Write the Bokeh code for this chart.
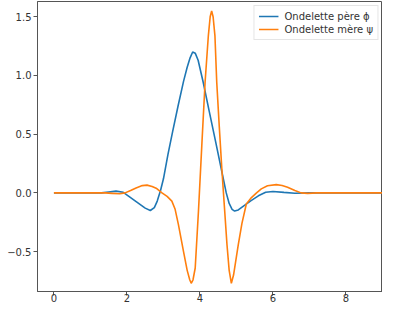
from bokeh.plotting import figure
from bokeh.models import FixedTicker, Range1d, Legend, LegendItem
from bokeh.embed import file_html
from bokeh.resources import INLINE

# Father wavelet (phi)
phi_x = [0, 1.3, 1.5, 1.7, 1.9, 2.1, 2.3, 2.5, 2.64, 2.75, 2.83, 2.92, 3.0, 3.125, 3.25, 3.4,
         3.55, 3.65, 3.73, 3.8, 3.87, 3.95, 4.09, 4.25, 4.44, 4.6, 4.72, 4.8, 4.88, 4.95,
         5.05, 5.2, 5.4, 5.6, 5.8, 6.0, 6.3, 6.6, 7.0, 9.0]
phi_y = [0, 0, 0.008, 0.015, 0.005, -0.04, -0.085, -0.13, -0.15, -0.125, -0.07, 0.02, 0.12, 0.33, 0.52, 0.74,
         0.95, 1.07, 1.15, 1.20, 1.19, 1.13, 0.94, 0.70, 0.42, 0.18, 0.0, -0.09, -0.14, -0.155,
         -0.145, -0.11, -0.066, -0.025, 0.005, 0.012, 0.004, -0.003, 0, 0]

# Mother wavelet (psi)
psi_x = [0, 1.4, 1.6, 1.8, 1.95, 2.1, 2.25, 2.42, 2.55, 2.69, 2.8, 2.96, 3.1, 3.23, 3.32, 3.41,
         3.55, 3.65, 3.72, 3.76, 3.81, 3.87, 3.96, 4.05, 4.14, 4.23, 4.28, 4.32, 4.36, 4.41,
         4.46, 4.53, 4.6, 4.67, 4.74, 4.8, 4.86, 4.92, 5.05, 5.15, 5.27, 5.41, 5.55, 5.68,
         5.85, 6.09, 6.25, 6.4, 6.6, 6.77, 6.95, 7.2, 9.0]
psi_y = [0, 0, -0.004, -0.008, 0.0, 0.02, 0.042, 0.062, 0.066, 0.055, 0.04, 0.0, -0.03, -0.07, -0.14, -0.27,
         -0.5, -0.66, -0.74, -0.77, -0.74, -0.64, -0.15, 0.4, 0.94, 1.34, 1.5, 1.55, 1.5, 1.34,
         0.94, 0.56, 0.2, -0.12, -0.44, -0.66, -0.77, -0.7, -0.44, -0.26, -0.095, -0.04, 0.0, 0.034,
         0.06, 0.07, 0.063, 0.048, 0.02, 0.0, -0.004, 0, 0]

x_ticks = [0, 2, 4, 6, 8]
x_tick_labels = ["0", "2", "4", "6", "8"]
y_ticks = [-0.5, 0, 0.5, 1.0, 1.5]
y_tick_labels = ["\u22120.5", "0.0", "0.5", "1.0", "1.5"]
series_labels = ["Ondelette p\u00e8re \u03d5", "Ondelette m\u00e8re \u03c8"]
series_colors = ["#1f77b4", "#ff7f0e"]

FONT = "DejaVu Sans"

p = figure(width=382, height=304, output_backend="svg", toolbar_location=None,
           x_range=Range1d(-0.45, 9.0), y_range=Range1d(-0.84, 1.63),
           min_border_left=37, min_border_right=0, min_border_top=1, min_border_bottom=0)

r1 = p.line(phi_x, phi_y, line_color=series_colors[0], line_width=1.6)
r2 = p.line(psi_x, psi_y, line_color=series_colors[1], line_width=1.6)

p.xgrid.visible = False
p.ygrid.visible = False
p.outline_line_color = "#555555"
p.outline_line_width = 1

p.xaxis.ticker = FixedTicker(ticks=x_ticks)
p.yaxis.ticker = FixedTicker(ticks=y_ticks)
p.xaxis.major_label_overrides = {t: l for t, l in zip(x_ticks, x_tick_labels)}
p.yaxis.major_label_overrides = {t: l for t, l in zip(y_ticks, y_tick_labels)}

for ax in (p.xaxis[0], p.yaxis[0]):
    ax.axis_line_color = "#555555"
    ax.major_tick_line_color = "#555555"
    ax.major_tick_in = 0
    ax.major_tick_out = 4
    ax.minor_tick_line_color = None
    ax.major_label_text_font = FONT
    ax.major_label_text_font_size = "10px"
    ax.major_label_text_color = "#333333"
    ax.major_label_standoff = 2
p.xaxis[0].major_label_standoff = -2

legend = Legend(items=[LegendItem(label=series_labels[0], renderers=[r1]),
                       LegendItem(label=series_labels[1], renderers=[r2])],
                location="top_right")
legend.label_text_font = FONT
legend.label_text_font_size = "10px"
legend.label_text_color = "#333333"
legend.glyph_width = 20
legend.glyph_height = 12
legend.label_height = 12
legend.spacing = 1
legend.padding = 4
legend.margin = 4
legend.label_standoff = 6
legend.border_line_color = "#cccccc"
legend.background_fill_alpha = 0.8
p.add_layout(legend)

open("out.html", "w").write(file_html(p, INLINE))
